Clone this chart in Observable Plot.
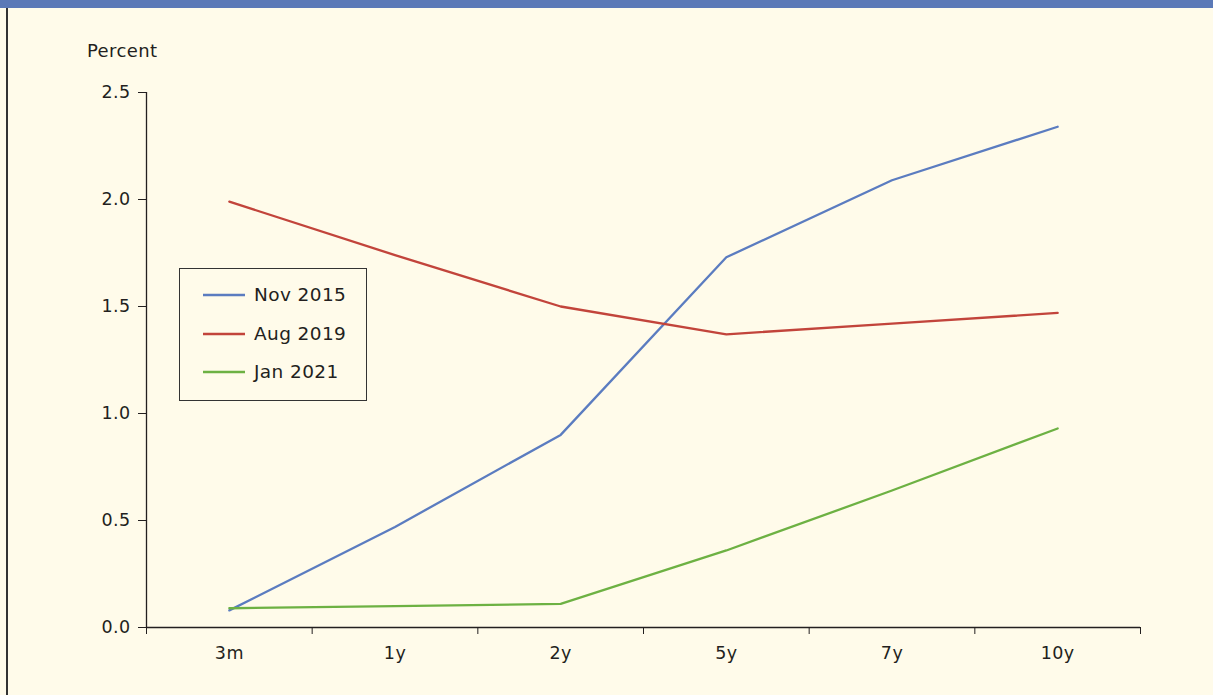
<!DOCTYPE html>
<html>
<head>
<meta charset="utf-8">
<script src="https://cdn.jsdelivr.net/npm/d3@7"></script>
<script src="https://cdn.jsdelivr.net/npm/@observablehq/plot@0.6"></script>
<style>
  html, body { margin: 0; padding: 0; background: #fffbea; }
  #wrap { position: relative; width: 1213px; height: 695px; overflow: hidden; background: #fffbea; font-family: "DejaVu Sans", sans-serif; color: #231f20; letter-spacing: 0.4px; }
  #banner { position: absolute; left: 0; top: 0; width: 1213px; height: 8px; background: #5b79b7; }
  #border { position: absolute; left: 6px; top: 8px; width: 1.5px; height: 687px; background: #333; }
  #ylabel { position: absolute; left: 87px; top: 39px; font-size: 18px; line-height: 24px; }
  #legend { position: absolute; left: 179px; top: 268px; width: 186px; height: 131px; border: 1px solid #333; background: #fffbea; }
  .row { position: absolute; left: 23px; font-size: 18.5px; line-height: 22px; display: flex; align-items: center; }
  .row svg { margin-right: 9px; }
  #chart { position: absolute; left: 0; top: 0; }
  #chart svg text { letter-spacing: 0.4px; }
</style>
</head>
<body>
<div id="wrap">
  <div id="chart"></div>
  <div id="banner"></div>
  <div id="border"></div>
  <div id="ylabel">Percent</div>
  <div id="legend"></div>
</div>
<script>
const maturities = ["3m", "1y", "2y", "5y", "7y", "10y"];
const seriesNames = ["Nov 2015", "Aug 2019", "Jan 2021"];
const colors = ["#5b7cc0", "#c2443b", "#6db143"];
const nov2015 = [0.08, 0.47, 0.90, 1.73, 2.09, 2.34];
const aug2019 = [1.99, 1.74, 1.50, 1.37, 1.42, 1.47];
const jan2021 = [0.09, 0.10, 0.11, 0.36, 0.64, 0.93];
const yTicks = [0, 0.5, 1.0, 1.5, 2.0, 2.5];

const seriesValues = [nov2015, aug2019, jan2021];
const data = [];
seriesValues.forEach((vals, s) => vals.forEach((v, i) => data.push({series: seriesNames[s], i, value: v})));

const boundaries = d3.range(-0.5, maturities.length, 1);

const chart = Plot.plot({
  width: 1213,
  height: 695,
  marginLeft: 146,
  marginRight: 73,
  marginTop: 92,
  marginBottom: 68,
  style: {background: "transparent", fontFamily: "DejaVu Sans, sans-serif", fontSize: "17.5px", color: "#231f20"},
  x: {type: "linear", domain: [-0.5, maturities.length - 0.5]},
  y: {domain: [0, 2.5]},
  color: {domain: seriesNames, range: colors},
  marks: [
    Plot.axisY({ticks: yTicks, tickFormat: d3.format(".1f"), tickSize: 8, tickPadding: 8, label: null, stroke: "#231f20", fontSize: 17.5}),
    Plot.axisX({ticks: boundaries, tickFormat: () => "", tickSize: 7, label: null, stroke: "#231f20"}),
    Plot.axisX({ticks: d3.range(maturities.length), tickFormat: i => maturities[i], tickSize: 0, tickPadding: 19, label: null, fontSize: 17.5}),
    Plot.ruleX([-0.5], {y1: 0, y2: 2.5, stroke: "#231f20", strokeWidth: 1.3}),
    Plot.ruleY([0], {x1: -0.5, x2: maturities.length - 0.5, stroke: "#231f20", strokeWidth: 1.3}),
    Plot.line(data, {x: "i", y: "value", z: "series", stroke: "series", strokeWidth: 2.3})
  ]
});
document.getElementById("chart").appendChild(chart);

const legend = document.getElementById("legend");
seriesNames.forEach((name, k) => {
  const row = document.createElement("div");
  row.className = "row";
  row.style.top = (15 + k * 38.5) + "px";
  row.innerHTML = `<svg width="42" height="4"><line x1="0" x2="42" y1="2" y2="2" stroke="${colors[k]}" stroke-width="2.5"/></svg><span>${name}</span>`;
  legend.appendChild(row);
});
</script>
</body>
</html>
